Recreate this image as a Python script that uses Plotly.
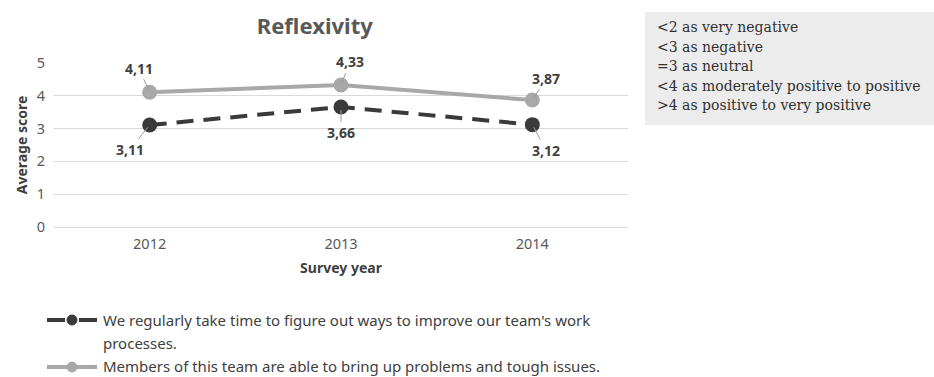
import plotly.graph_objects as go

years = ["2012", "2013", "2014"]
improve_scores = [3.11, 3.66, 3.12]
problems_scores = [4.11, 4.33, 3.87]
series_names = [
    "We regularly take time to figure out ways to improve our team's work",
    "processes.",
    "Members of this team are able to bring up problems and tough issues.",
]
scale_notes = [
    "&lt;2 as very negative",
    "&lt;3 as negative",
    "=3 as neutral",
    "&lt;4 as moderately positive to positive",
    "&gt;4 as positive to very positive",
]

DARK = "#3a3a3a"
LIGHT = "#a8a8a8"
FONT = "Noto Sans"

W, H = 934, 377
L, R, T, B = 54, 306, 63, 150
PW, PH = W - L - R, H - T - B


def px(x):
    return (x - L) / PW


def py(y):
    return (H - B - y) / PH


fig = go.Figure()
series = [
    (improve_scores, DARK, "17px,10px"),
    (problems_scores, LIGHT, "solid"),
]
for values, color, dash in series:
    fig.add_trace(go.Scatter(
        x=years, y=values, mode="lines+markers",
        line=dict(color=color, width=4, dash=dash),
        marker=dict(color=color, size=15),
        showlegend=False,
    ))


def fmt(v):
    return f"{v:.2f}".replace(".", ",")


# data labels with short leader lines
offsets_improve = [(-20, 25), (0, 26), (14, 26)]
offsets_problems = [(-11, -24), (9, -23), (14, -22)]
for values, offsets in ((improve_scores, offsets_improve), (problems_scores, offsets_problems)):
    for i, (v, (ax, ay)) in enumerate(zip(values, offsets)):
        fig.add_annotation(x=i, y=v, text=f"<b>{fmt(v)}</b>", ax=ax, ay=ay,
                           showarrow=True, arrowhead=0, arrowwidth=1, arrowcolor="#9a9a9a",
                           standoff=3, font=dict(family=FONT, size=14, color="#404040"))

# scale interpretation box
fig.add_shape(type="rect", xref="paper", yref="paper",
              x0=px(645), x1=px(934), y0=py(12), y1=py(125),
              fillcolor="#ececec", line=dict(width=0), layer="below")
for k, note in enumerate(scale_notes):
    fig.add_annotation(xref="paper", yref="paper", x=px(655), y=py(27 + 19.6 * k),
                       xanchor="left", yanchor="middle", text=note, showarrow=False,
                       font=dict(family="DejaVu Serif", size=14, color="#303030"))

# legend drawn below the chart
legend_rows = [(320, DARK, "18px,14px"), (367, LIGHT, "solid")]
for yrow, color, dash in legend_rows:
    fig.add_shape(type="line", xref="paper", yref="paper",
                  x0=px(47), x1=px(97), y0=py(yrow), y1=py(yrow),
                  line=dict(color=color, width=4, dash=dash))
    fig.add_shape(type="circle", xref="paper", yref="paper",
                  x0=px(67), x1=px(77), y0=py(yrow + 5), y1=py(yrow - 5),
                  fillcolor=color, line=dict(color=color, width=1))
for text, yrow in zip(series_names, (320, 343, 366)):
    fig.add_annotation(xref="paper", yref="paper", x=px(101), y=py(yrow),
                       xanchor="left", yanchor="middle", text=text, showarrow=False,
                       font=dict(family=FONT, size=15, color="#404040"))

fig.update_layout(
    width=W, height=H,
    margin=dict(l=L, r=R, t=T, b=B),
    paper_bgcolor="white", plot_bgcolor="white",
    font=dict(family=FONT, color="#595959"),
    title=dict(text="<b>Reflexivity</b>", x=0.337, xanchor="center", y=0.93, yanchor="middle",
               font=dict(family=FONT, size=22, color="#595959")),
    showlegend=False,
)
fig.update_xaxes(type="category", range=[-0.5, 2.5], showgrid=False, showline=False,
                 ticks="", zeroline=False, ticklabelstandoff=6,
                 tickfont=dict(size=14.5, color="#595959"),
                 title=dict(text="<b>Survey year</b>", font=dict(size=14, color="#404040"), standoff=11))
fig.update_yaxes(range=[0, 5], dtick=1, showgrid=True, gridcolor="#d9d9d9", gridwidth=1,
                 zeroline=True, zerolinecolor="#d9d9d9", zerolinewidth=1, showline=False,
                 tickfont=dict(size=14.5, color="#595959"), ticklabelstandoff=8,
                 title=dict(text="<b>Average score</b>", font=dict(size=14, color="#404040"), standoff=5))

fig.write_html("out.html")
